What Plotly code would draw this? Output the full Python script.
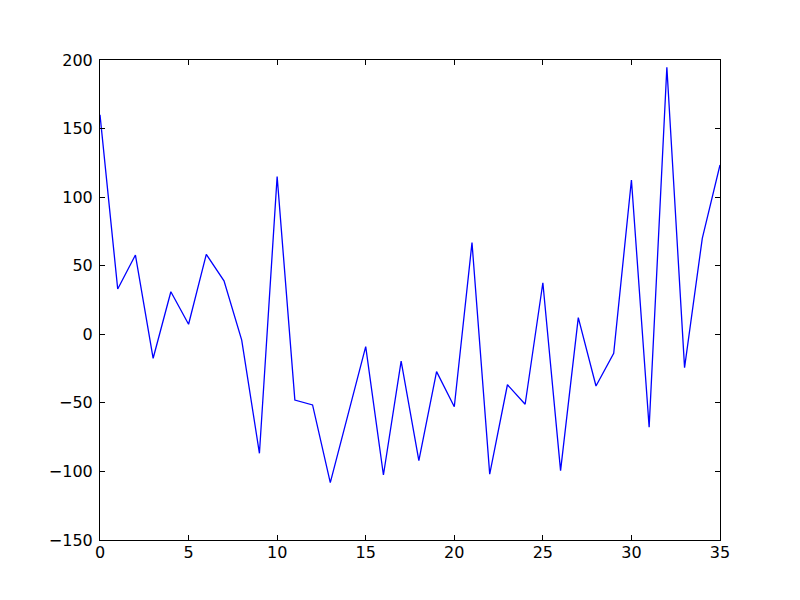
import plotly.graph_objects as go

x_values = list(range(36))
y_values = [160, 33, 57.8, -17.5, 31, 7.3, 58.3, 39, -4.2, -86.8,
            115, -48, -51.5, -108.2, -58.6, -9, -102.6, -19.5, -92.1, -27.2,
            -52.8, 66.8, -102, -36.8, -51, 37.6, -99.4, 12.1, -37.7, -13.9,
            112.5, -67.8, 194.7, -24.3, 70, 123.5]

x_ticks = [0, 5, 10, 15, 20, 25, 30, 35]
y_ticks = [-150, -100, -50, 0, 50, 100, 150, 200]

fig = go.Figure()
fig.add_trace(go.Scatter(x=x_values, y=y_values, mode="lines",
                         line=dict(color="#0000ff", width=1.3)))

axis_common = dict(showline=True, linecolor="black", linewidth=1, mirror="allticks",
                   ticks="inside", ticklen=5, tickwidth=1, tickcolor="black",
                   showgrid=False, zeroline=False,
                   tickfont=dict(family="DejaVu Sans", size=16, color="black"))

fig.update_layout(
    width=800, height=600,
    margin=dict(l=92, r=88, t=52, b=68),
    paper_bgcolor="white", plot_bgcolor="white",
    showlegend=False,
    xaxis=dict(range=[0, 35], tickvals=x_ticks, ticklabelstandoff=-2, **axis_common),
    yaxis=dict(range=[-150, 200], tickvals=y_ticks, ticklabelstandoff=3, **axis_common),
)

fig.write_html("out.html")
